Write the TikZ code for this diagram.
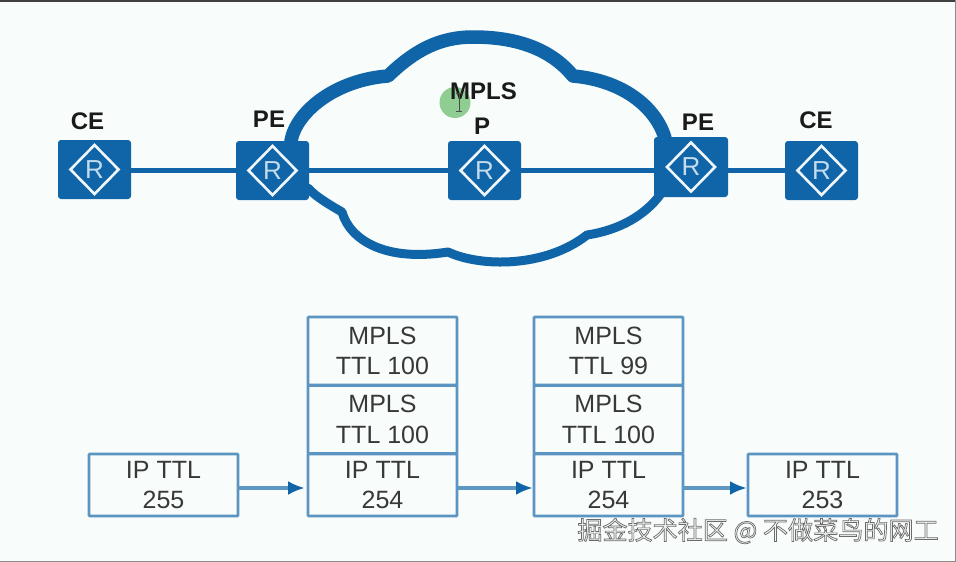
\documentclass[tikz,border=0pt]{standalone}
\usepackage{fontspec}
\setmainfont{Liberation Sans}
\newfontfamily\cjkwm{Noto Sans CJK SC}
\usetikzlibrary{arrows.meta}
\definecolor{bgc}{HTML}{F8FCFB}
\definecolor{hw}{HTML}{0F65A8}
\definecolor{rl}{HTML}{C4DCEC}
\definecolor{boxl}{HTML}{5C95C2}
\definecolor{arl}{HTML}{5E97BF}
\definecolor{txt}{HTML}{383838}
\definecolor{lab}{HTML}{1A1A1A}
\tikzset{
  router/.style={fill=hw,rounded corners=3,minimum width=73,minimum height=59,inner sep=0,text=rl,
    font=\fontsize{26}{26}\selectfont,
    path picture={\draw[white!94!hw,line width=2.6,sharp corners,miter limit=10] ([xshift=-24]path picture bounding box.center)--([yshift=24.5]path picture bounding box.center)--([xshift=24]path picture bounding box.center)--([yshift=-24.5]path picture bounding box.center)--cycle;}},
  lnk/.style={hw,line width=4.2},
  cloudp/.style={hw,line join=round,line cap=round},
  cell/.style={draw=boxl,line width=2.6,fill=bgc,rounded corners=0.8,minimum width=149,inner sep=0,outer sep=0,align=center,text=txt,anchor=north west,
    font=\fontsize{25}{30.5}\selectfont},
  head/.style={text=lab,inner sep=0,font=\bfseries\fontsize{24}{24}\selectfont},
  flow/.style={arl,line width=4,-{Latex[hw,length=17,width=14]}},
}
\begin{document}
\begin{tikzpicture}[x=1pt,y=-1pt]
\useasboundingbox (0,0) rectangle (956,562);
\fill[bgc] (0,0) rectangle (956,562);
\fill[black!75] (0,0) rectangle (956,1.5);
\fill[black!45] (0,561) rectangle (956,562);
\fill[black!45] (955,0) rectangle (956,562);
% cloud
\draw[cloudp,line width=13.5] (291,141) .. controls (296,112) and (335,80) .. (388,76)
  .. controls (415,50) and (440,37) .. (473,37) .. controls (515,37) and (550,48) .. (573,76)
  .. controls (620,80) and (655,105) .. (665,138);
\draw[cloudp,line width=9] (308,188) .. controls (316,197) and (330,205) .. (342,212)
  .. controls (350,240) and (385,262) .. (448,252)
  .. controls (480,267) and (545,268) .. (587,235)
  .. controls (620,230) and (645,215) .. (660,195);
% routers
\node[router] (ce1) at (94.5,169.5) {R};
\node[router] (pe1) at (272.5,170.5) {R};
\node[router] (p) at (484.5,170.5) {R};
\node[router,minimum width=74,minimum height=60] (pe2) at (691,167) {R};
\node[router] (ce2) at (821.5,170.5) {R};
\draw[lnk] (ce1.east |- pe1.west) -- (pe1.west);
\draw[lnk] (pe1.east) -- (p.west);
\draw[lnk] (p.east) -- (pe2.west |- p.east);
\draw[lnk] (pe2.east |- ce2.west) -- (ce2.west);
% labels
\node[head] (lce1) at (87.5,121) {CE};
\node[head] (lpe1) at (269,119.5) {PE};
\node[head] (lpe2) at (698,122) {PE};
\node[head] (lce2) at (816,120.5) {CE};
\node[head] (lp) at (482,126) {P};
% pointer dot
\node[circle,fill=green!55!black!70,fill opacity=0.6,minimum size=31,inner sep=0] (dot) at (455,102.5) {};
\node[head] (lmpls) at (483.5,91) {MPLS};
\draw[black!70,line width=0.8] (459,93) -- (459,111) (456,93) -- (462,93) (456,111) -- (462,111);
% packet boxes
\node[cell,minimum height=62] (a) at (89,454) {IP TTL\\255};
\node[cell,minimum height=68] (b1) at (308,317) {MPLS\\TTL 100};
\node[cell,minimum height=68] (b2) at (308,385.5) {MPLS\\TTL 100};
\node[cell,minimum height=62] (b3) at (308,454) {IP TTL\\254};
\node[cell,minimum height=68] (c1) at (534,317) {MPLS\\TTL 99};
\node[cell,minimum height=68] (c2) at (534,385.5) {MPLS\\TTL 100};
\node[cell,minimum height=62] (c3) at (534,454) {IP TTL\\254};
\node[cell,minimum height=62] (d) at (748,454) {IP TTL\\253};
\draw[flow] ([yshift=-3]a.east) -- ([xshift=-3,yshift=-3]b3.west);
\draw[flow] ([yshift=-3]b3.east) -- ([xshift=-1,yshift=-3]c3.west);
\draw[flow] ([yshift=-3]c3.east) -- ([xshift=-1,yshift=-3]d.west);
% watermark
\node[inner sep=0,font=\cjkwm\fontsize{25.1}{25.1}\selectfont] (wm) at (758,531) {\special{pdf:code 2 Tr 0.7 w 0.42 0.42 0.42 RG 0.96 0.96 0.96 rg}掘金技术社区 @ 不做菜鸟的网工\special{pdf:code 0 Tr}};
\end{tikzpicture}
\end{document}
